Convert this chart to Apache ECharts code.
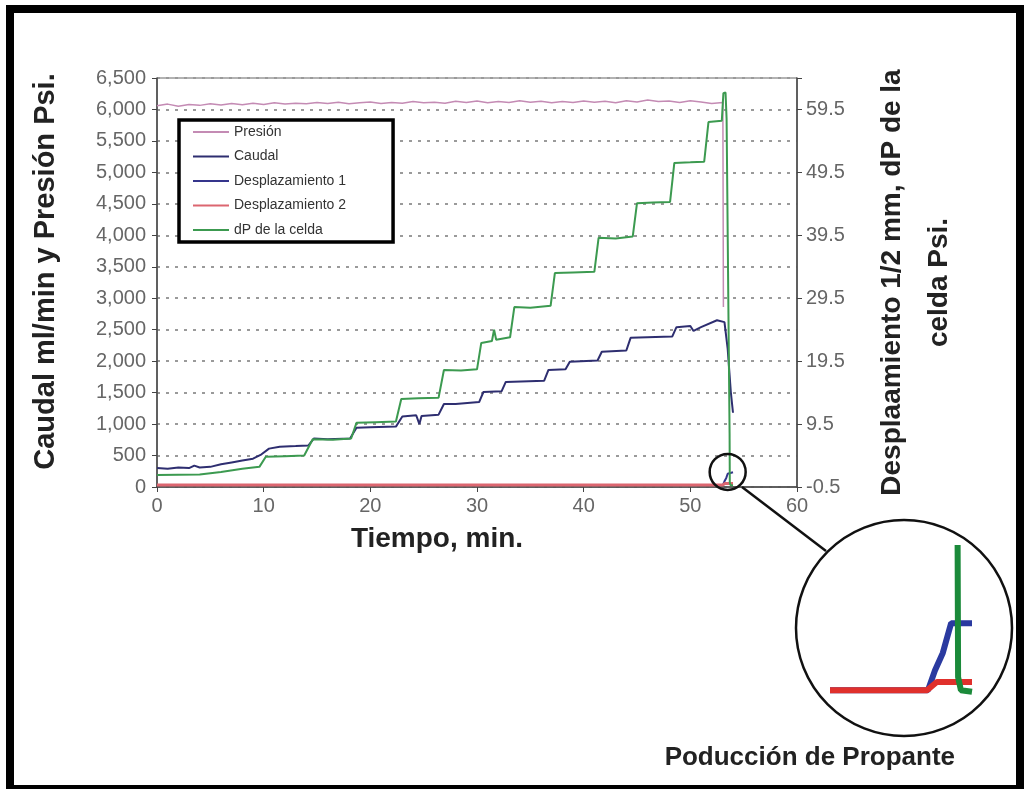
<!DOCTYPE html>
<html>
<head>
<meta charset="utf-8">
<script src="https://cdn.jsdelivr.net/npm/echarts@6/dist/echarts.min.js"></script>
<style>
  html, body { margin: 0; padding: 0; background: #fff; }
  #chart { width: 1028px; height: 789px; }
</style>
</head>
<body>
<div id="chart"></div>
<script>
// [tiempo min, valor]
// eje izquierdo: Presión (psi) y Caudal (ml/min)
const presion = [
  [0, 6060], [1, 6085], [2, 6050], [3, 6080], [4, 6065], [5, 6090], [6, 6070], [7, 6095],
  [8, 6075], [9, 6100], [10, 6080], [11, 6105], [12, 6085], [13, 6100], [14, 6090], [15, 6110],
  [16, 6095], [17, 6115], [18, 6090], [19, 6105], [20, 6120], [21, 6095], [22, 6110], [23, 6100],
  [24, 6125], [25, 6105], [26, 6115], [27, 6100], [28, 6130], [29, 6110], [30, 6135], [31, 6105],
  [32, 6125], [33, 6110], [34, 6140], [35, 6115], [36, 6130], [37, 6105], [38, 6125], [39, 6110],
  [40, 6135], [41, 6115], [42, 6130], [43, 6105], [44, 6140], [45, 6120], [46, 6150], [47, 6125],
  [48, 6135], [49, 6110], [50, 6140], [51, 6120], [52, 6095], [53.05, 6110], [53.1, 2860]
];
const caudal = [
  [0, 300], [1, 290], [2, 310], [3, 300], [3.5, 340], [4, 310], [5, 320], [6, 360], [7, 390],
  [8, 420], [9, 450], [9.8, 520], [10.5, 610], [11.5, 640], [13, 650], [14.2, 660], [14.7, 770],
  [16, 760], [18.1, 770], [18.7, 940], [20, 950], [22.4, 960], [23, 1120], [24.3, 1140],
  [24.6, 1000], [24.8, 1130], [26.4, 1150], [26.9, 1320], [28, 1320], [30.2, 1350], [30.6, 1510],
  [32.3, 1520], [32.7, 1670], [36.3, 1690], [36.7, 1860], [38.3, 1870], [38.7, 1990], [41.3, 2010],
  [41.7, 2150], [44.0, 2170], [44.4, 2370], [48.3, 2390], [48.7, 2540], [50, 2560], [50.3, 2480],
  [51, 2540], [52.5, 2650], [53.2, 2620], [53.5, 2200], [53.8, 1500], [54, 1180]
];
// eje derecho: Desplazamiento (mm) y dP de la celda (psi)
const desp1 = [
  [0, -0.2], [53.05, -0.2], [53.2, 0.4], [53.37, 0.94], [53.5, 1.6], [53.55, 1.85], [54, 1.85]
];
const desp2 = [
  [0, -0.2], [53.03, -0.2], [53.24, 0.05], [54, 0.05]
];
const dpCelda = [
  [0, 1.4], [4, 1.5], [6, 1.9], [8, 2.4], [9.6, 2.7], [10.2, 4.3], [12, 4.4], [13.8, 4.5],
  [14.6, 7.1], [16.5, 7.0], [18.2, 7.2], [18.7, 9.7], [20.5, 9.8], [22.4, 9.9], [22.9, 13.5],
  [24.5, 13.6], [26.4, 13.7], [26.9, 18.1], [28.5, 18.0], [30.0, 18.2], [30.4, 22.4], [31.4, 22.7],
  [31.6, 24.5], [31.8, 22.9], [33.1, 23.3], [33.5, 28.1], [35, 28.0], [36.9, 28.3], [37.3, 33.5],
  [39, 33.6], [41.0, 33.7], [41.4, 39.1], [43, 39.0], [44.6, 39.3], [45.0, 44.6], [46.5, 44.7],
  [48.1, 44.8], [48.5, 51.0], [50, 51.1], [51.3, 51.2], [51.7, 57.5], [52.95, 57.7], [53.1, 62.1],
  [53.3, 62.2], [53.4, 58], [53.68, 8], [53.7, 0.2], [53.76, -0.2], [54, -0.25]
];

const xTicks = { min: 0, max: 60, step: 10 };
const leftTicks = { min: 0, max: 6500, step: 500 };
const rightTicks = { min: -0.5, max: 64.5, step: 10 };
// zona ampliada (Poducción de Propante)
const zoomRange = { x: [51, 54], y: [-0.5, 4.15] };

const FONT = "'Liberation Sans', Arial, sans-serif";
const names = ['Presión', 'Caudal', 'Desplazamiento 1', 'Desplazamiento 2', 'dP de la celda'];

const chart = echarts.init(document.getElementById('chart'));

const option = {
  animation: false,
  backgroundColor: '#fff',
  legend: {
    data: names,
    orient: 'vertical',
    left: 179,
    top: 120,
    icon: 'rect',
    itemWidth: 36,
    itemHeight: 2,
    itemGap: 10.5,
    padding: [5, 47, 5, 14],
    backgroundColor: '#fff',
    borderColor: '#000',
    borderWidth: 3.5,
    textStyle: { fontSize: 14, color: '#333', fontFamily: FONT }
  },
  grid: [
    { left: 157, top: 78, width: 640, height: 409, show: true, borderColor: '#666', borderWidth: 1, backgroundColor: 'transparent' },
    { left: 833, top: 548, width: 139, height: 152, show: false }
  ],
  xAxis: [
    {
      gridIndex: 0, type: 'value', min: xTicks.min, max: xTicks.max, interval: xTicks.step,
      name: 'Tiempo, min.', nameLocation: 'middle', nameGap: 38,
      nameTextStyle: { fontSize: 28, fontWeight: 'bold', color: '#222', fontFamily: FONT, padding: [0, 80, 0, 0] },
      axisLine: { lineStyle: { color: '#444', width: 1.5 } },
      axisTick: { length: 5, lineStyle: { color: '#444' } },
      axisLabel: { fontSize: 20, color: '#666', margin: 9, fontFamily: FONT },
      splitLine: { show: false }
    },
    { gridIndex: 1, type: 'value', min: zoomRange.x[0], max: zoomRange.x[1], show: false }
  ],
  yAxis: [
    {
      gridIndex: 0, type: 'value', position: 'left', min: leftTicks.min, max: leftTicks.max, interval: leftTicks.step,
      name: 'Caudal ml/min y Presión Psi.', nameLocation: 'middle', nameRotate: 90, nameGap: 97,
      nameTextStyle: { fontSize: 29, fontWeight: 'bold', color: '#222', fontFamily: FONT, padding: [0, 0, 0, 22] },
      axisLine: { show: true, lineStyle: { color: '#444', width: 1.5 } },
      axisTick: { show: true, length: 5, lineStyle: { color: '#444' } },
      axisLabel: { fontSize: 20, color: '#666', margin: 11, fontFamily: FONT, formatter: v => v.toLocaleString('en-US') },
      splitLine: { show: true, lineStyle: { color: '#9a9a9a', width: 2, type: [3, 6] } }
    },
    {
      gridIndex: 0, type: 'value', position: 'right', min: rightTicks.min, max: rightTicks.max, interval: rightTicks.step,
      name: 'Desplaamiento 1/2 mm, dP de la\ncelda Psi.', nameLocation: 'middle', nameRotate: 90, nameGap: 72,
      nameTextStyle: { fontSize: 28, fontWeight: 'bold', color: '#222', fontFamily: FONT, lineHeight: 47, align: 'center' },
      axisLine: { show: true, lineStyle: { color: '#444', width: 1.5 } },
      axisTick: { show: true, length: 5, lineStyle: { color: '#444' } },
      axisLabel: {
        fontSize: 20, color: '#666', margin: 9, fontFamily: FONT,
        formatter: v => (v >= rightTicks.max ? '' : v.toFixed(1))
      },
      splitLine: { show: false }
    },
    { gridIndex: 1, type: 'value', min: zoomRange.y[0], max: zoomRange.y[1], show: false }
  ],
  series: [
    { name: 'Presión', type: 'line', xAxisIndex: 0, yAxisIndex: 0, data: presion, symbol: 'none',
      color: '#c48bb4', lineStyle: { width: 1.5, color: '#c48bb4' } },
    { name: 'Desplazamiento 1', type: 'line', xAxisIndex: 0, yAxisIndex: 1, data: desp1, symbol: 'none',
      color: '#35358c', lineStyle: { width: 2, color: '#35358c' } },
    { name: 'Desplazamiento 2', type: 'line', xAxisIndex: 0, yAxisIndex: 1, data: desp2, symbol: 'none',
      color: '#dc6670', lineStyle: { width: 3, color: '#dc6670' } },
    { name: 'Caudal', type: 'line', xAxisIndex: 0, yAxisIndex: 0, data: caudal, symbol: 'none',
      color: '#2e2e70', lineStyle: { width: 2, color: '#2e2e70' } },
    { name: 'dP de la celda', type: 'line', xAxisIndex: 0, yAxisIndex: 1, data: dpCelda, symbol: 'none',
      color: '#3c9a50', lineStyle: { width: 2, color: '#3c9a50' } },
    // detalle ampliado
    { name: 'zoom-desp1', type: 'line', xAxisIndex: 1, yAxisIndex: 2, data: desp1, symbol: 'none', silent: true,
      lineStyle: { width: 6, color: '#2a3aa0' } },
    { name: 'zoom-desp2', type: 'line', xAxisIndex: 1, yAxisIndex: 2, data: desp2, symbol: 'none', silent: true,
      lineStyle: { width: 6, color: '#e0302c' } },
    { name: 'zoom-dp', type: 'line', xAxisIndex: 1, yAxisIndex: 2, data: dpCelda, symbol: 'none', silent: true,
      lineStyle: { width: 6, color: '#1b8a3a' } }
  ]
};

chart.setOption(option);

// anotaciones: marco exterior, círculos de ampliación y rótulo
const spot = chart.convertToPixel({ xAxisIndex: 0, yAxisIndex: 1 }, [53.5, 1.9]);
chart.setOption({
  graphic: [
    { type: 'rect', shape: { x: 10, y: 9, width: 1010, height: 780 }, style: { fill: 'none', stroke: '#000', lineWidth: 8 }, z: 100 },
    { type: 'circle', shape: { cx: spot[0], cy: spot[1], r: 18 }, style: { fill: 'none', stroke: '#111', lineWidth: 2.5 }, z: 100 },
    { type: 'line', shape: { x1: 742, y1: 487, x2: 826, y2: 551 }, style: { stroke: '#111', lineWidth: 2.5 }, z: 100 },
    { type: 'circle', shape: { cx: 904, cy: 628, r: 108 }, style: { fill: 'none', stroke: '#111', lineWidth: 2.5 }, z: 100 },
    { type: 'text', style: { text: 'Poducción de Propante', x: 955, y: 758, align: 'right', verticalAlign: 'middle',
      fontSize: 26, fontWeight: 'bold', fill: '#222', fontFamily: FONT }, z: 100 }
  ]
});
</script>
</body>
</html>
